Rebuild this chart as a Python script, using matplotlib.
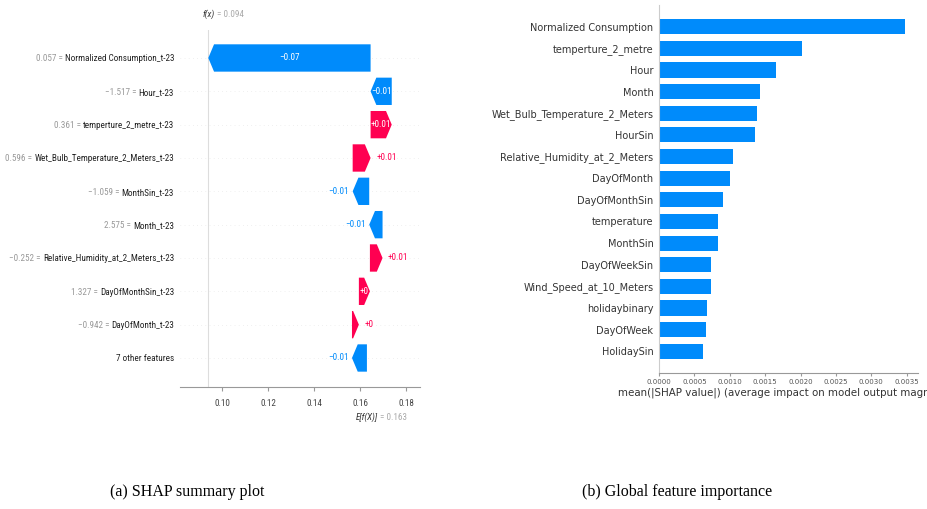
import numpy as np
import matplotlib
matplotlib.use("Agg")
import matplotlib.pyplot as plt
from matplotlib import font_manager


# --- DU LIEU HINH (a): waterfall SHAP ---
waterfall_features = ["Normalized Consumption_t-23", "Hour_t-23", "temperture_2_metre_t-23",
                      "Wet_Bulb_Temperature_2_Meters_t-23", "MonthSin_t-23", "Month_t-23",
                      "Relative_Humidity_at_2_Meters_t-23", "DayOfMonthSin_t-23",
                      "DayOfMonth_t-23", "7 other features"]
feature_values = [0.057, -1.517, 0.361, 0.596, -1.059, 2.575, -0.252, 1.327, -0.942, None]
shap_values = [-0.0706, -0.0092, 0.0092, 0.0078, -0.0072, -0.0058, 0.0055, 0.0048, 0.0030, -0.0065]
base_value = 0.163
fx_value = 0.094
waterfall_ticks = [0.10, 0.12, 0.14, 0.16, 0.18]

# --- DU LIEU HINH (b): do quan trong toan cuc ---
importance_features = ["Normalized Consumption", "temperture_2_metre", "Hour", "Month",
                       "Wet_Bulb_Temperature_2_Meters", "HourSin", "Relative_Humidity_at_2_Meters",
                       "DayOfMonth", "DayOfMonthSin", "temperature", "MonthSin", "DayOfWeekSin",
                       "Wind_Speed_at_10_Meters", "holidaybinary", "DayOfWeek", "HolidaySin"]
importance_values = [0.00348, 0.00202, 0.00165, 0.00143, 0.00138, 0.00136, 0.00105, 0.00100,
                     0.00090, 0.00083, 0.00083, 0.00073, 0.00073, 0.00068, 0.00067, 0.00062]
importance_ticks = [0.0, 0.0005, 0.0010, 0.0015, 0.0020, 0.0025, 0.0030, 0.0035]

captions = ["(a) SHAP summary plot", "(b) Global feature importance"]

BLUE = "#008bfb"
RED = "#ff0051"

# chon font hep cho hinh (a) neu co
available = {f.name for f in font_manager.fontManager.ttflist}
narrow_font, narrow_size = "DejaVu Sans", 5.3
for name, size in [("Liberation Sans Narrow", 7.0), ("DejaVu Sans Condensed", 5.8),
                   ("Roboto Condensed", 6.6)]:
    if name in available:
        narrow_font, narrow_size = name, size
        break


def fmt_shap(v):
    s = f"{v:+.2f}".rstrip("0").rstrip(".")
    return s.replace("-", "\u2212")


fig = plt.figure(figsize=(9.27, 5.09), dpi=100)

# ---------------- (a) waterfall ----------------
ax1 = fig.add_axes([0.1942, 0.2397, 0.2589, 0.7014])
n = len(waterfall_features)
ys = np.arange(n)[::-1]

# tinh diem bat dau cua tung mui ten, tu duoi len tren
starts = np.zeros(n)
cur = base_value
for i in range(n - 1, -1, -1):
    starts[i] = cur
    cur += shap_values[i]

label_inside = [True, True, True, False, False, False, False, True, False, False]
hl = 0.0025
name_texts = []
for i in range(n):
    v = shap_values[i]
    y = ys[i]
    col = RED if v > 0 else BLUE
    head = min(abs(v), hl)
    body = max(abs(v) - head, 1e-6)
    ax1.arrow(starts[i], y, np.sign(v) * body, 0, width=0.82, head_width=0.82,
              head_length=head, color=col, lw=0, zorder=3)
    ax1.axhline(y, color="#e2e2e2", lw=0.5, dashes=(1, 5), zorder=-1)

    txt = fmt_shap(v)
    if label_inside[i]:
        ax1.text(starts[i] + v / 2, y, txt, ha="center", va="center", color="white",
                 family=narrow_font, fontsize=narrow_size, zorder=4)
    elif v > 0:
        ax1.annotate(txt, xy=(starts[i] + v, y), xytext=(4, 0), textcoords="offset points",
                     ha="left", va="center", color=RED, family=narrow_font, fontsize=narrow_size)
    else:
        ax1.annotate(txt, xy=(starts[i] + v, y), xytext=(-2.5, 0), textcoords="offset points",
                     ha="right", va="center", color=BLUE, family=narrow_font, fontsize=narrow_size)

    # ten dac trung (mau den), gia tri mau xam dat ben trai sau khi do chieu rong
    t = ax1.annotate(waterfall_features[i], xy=(0, y), xycoords=("axes fraction", "data"),
                     xytext=(-4.3, -2.4), textcoords="offset points", ha="right", va="baseline",
                     color="#222222", family=narrow_font, fontsize=narrow_size)
    name_texts.append(t)

ax1.axvline(fx_value, color="#dddddd", lw=0.8, zorder=-1)
ax1.set_xlim(0.0817, 0.1861)
ax1.set_ylim(-0.87, 9.84)
ax1.set_yticks([])
ax1.set_xticks(waterfall_ticks)
ax1.set_xticklabels([f"{t:.2f}" for t in waterfall_ticks], family=narrow_font, fontsize=narrow_size)
ax1.tick_params(axis="x", length=3, color="#999999", labelcolor="#444444", pad=6)
for s in ["left", "top", "right"]:
    ax1.spines[s].set_visible(False)
ax1.spines["bottom"].set_color("#999999")

fig.canvas.draw()
renderer = fig.canvas.get_renderer()
for i in range(n):
    if feature_values[i] is None:
        continue
    w_pt = name_texts[i].get_window_extent(renderer).width * 72 / fig.dpi
    val = f"{feature_values[i]:.3f}".replace("-", "\u2212") + " ="
    ax1.annotate(val, xy=(0, ys[i]), xycoords=("axes fraction", "data"),
                 xytext=(-4.3 - w_pt - 1.3, -2.4), textcoords="offset points", ha="right",
                 va="baseline", color="#999999", family=narrow_font, fontsize=narrow_size)

# nhan f(x) phia tren va E[f(X)] phia duoi
ax1.annotate("f(x)", xy=(fx_value, 1), xycoords=("data", "axes fraction"), xytext=(0, 11),
             textcoords="offset points", ha="center", va="center", family=narrow_font,
             style="italic", fontsize=narrow_size, color="#333333")
ax1.annotate("= " + f"{fx_value:.3f}", xy=(fx_value, 1), xycoords=("data", "axes fraction"),
             xytext=(6, 11), textcoords="offset points", ha="left", va="center",
             family=narrow_font, fontsize=narrow_size, color="#aaaaaa")
ax1.annotate("E[f(X)]", xy=(base_value, 0), xycoords=("data", "axes fraction"), xytext=(0, -22),
             textcoords="offset points", ha="center", va="center", family=narrow_font,
             style="italic", fontsize=narrow_size, color="#333333")
ax1.annotate("= " + f"{base_value:.3f}", xy=(base_value, 0), xycoords=("data", "axes fraction"),
             xytext=(9.5, -22), textcoords="offset points", ha="left", va="center",
             family=narrow_font, fontsize=narrow_size, color="#aaaaaa")

# ---------------- (b) bar chart ----------------
ax2 = fig.add_axes([0.7109, 0.2672, 0.2794, 0.7230])
pos = np.arange(len(importance_features))[::-1]
ax2.barh(pos, importance_values, height=0.7, color=BLUE)
ax2.set_yticks(pos)
ax2.set_yticklabels(importance_features, fontsize=7, color="#333333")
ax2.tick_params(axis="y", length=0, pad=4)
ax2.set_xticks(importance_ticks)
ax2.set_xticklabels([f"{t:.4f}" for t in importance_ticks], fontsize=5, color="#555555")
ax2.tick_params(axis="x", length=2.5, color="#999999", pad=1.5)
ax2.set_xlim(0, 0.00366)
ax2.set_ylim(-1, 16)
ax2.set_xlabel("mean(|SHAP value|) (average impact on model output magnitude)", fontsize=7.4,
               color="#333333", labelpad=2)
ax2.spines["top"].set_visible(False)
ax2.spines["right"].set_visible(False)
ax2.spines["left"].set_color("#cccccc")
ax2.spines["bottom"].set_color("#999999")

# chu thich hinh
fig.text(187 / 927, 1 - 492 / 509, captions[0], family="Liberation Serif", fontsize=11.5,
         ha="center", va="center")
fig.text(677 / 927, 1 - 492 / 509, captions[1], family="Liberation Serif", fontsize=11.5,
         ha="center", va="center")

fig.savefig("out.png", dpi=100)
